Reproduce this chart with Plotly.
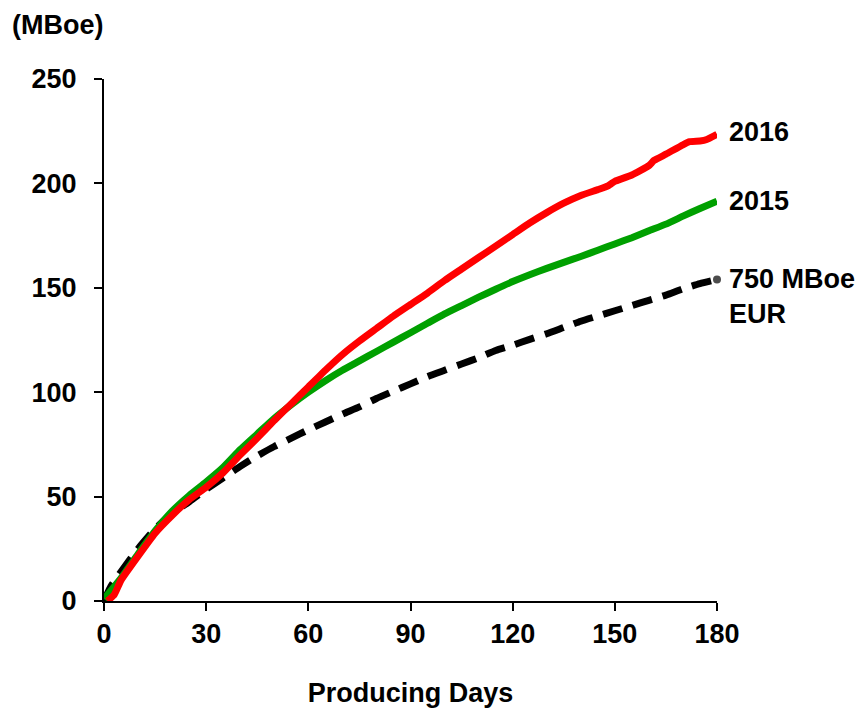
import plotly.graph_objects as go

# Cumulative production (MBoe) versus producing days
days_2016 = [1, 3, 5, 10, 15, 20, 25, 30, 35, 40, 45, 50, 55, 60, 65, 70, 75, 80, 85, 90,
             95, 100, 105, 110, 115, 120, 125, 130, 135, 140, 145, 148, 149.5, 150, 155,
             160, 161.5, 165, 170, 172, 175, 177, 180]
mboe_2016 = [0, 3, 10, 21.5, 32.5, 41, 48.5, 54.5, 61.5, 70, 78, 86.5, 94.5, 102.5, 110.5,
             118, 124.5, 130.5, 136.5, 142, 147.5, 153.5, 159, 164.5, 170, 175.5, 181,
             186, 190.5, 194.2, 197, 198.8, 200.5, 201, 204, 208.5, 211, 214, 218.5, 220,
             220.3, 221, 223.5]

days_2015 = [0, 5, 10, 15, 20, 25, 30, 35, 40, 45, 50, 55, 60, 65, 70, 75, 80, 85, 90, 95,
             100, 105, 110, 115, 120, 125, 130, 135, 140, 145, 150, 155, 160, 165, 170, 175, 180]
mboe_2015 = [1, 11, 22.5, 33.5, 43, 50.5, 57, 64, 72.5, 80, 87.5, 94, 100, 105.5, 110.5, 115,
             119.5, 124, 128.5, 133, 137.5, 141.5, 145.5, 149.3, 153, 156.3, 159.3, 162.2,
             165, 168, 171, 174, 177.3, 180.5, 184.3, 188, 191.5]

days_eur = [0, 2, 5, 10, 15, 20, 25, 30, 35, 40, 45, 50, 55, 60, 65, 70, 75, 80, 85, 90, 95,
            100, 105, 110, 115, 120, 125, 130, 135, 140, 145, 150, 155, 160, 165, 170, 175, 180]
mboe_eur = [0, 7, 14, 25, 34.5, 42, 47.5, 53.5, 59, 64.5, 69.5, 74, 78, 82, 85.7, 89.5, 93,
            97, 100.5, 104, 107.5, 110.5, 113.5, 116.5, 120, 122.5, 125.3, 128, 131, 134,
            136.5, 139, 141.5, 144, 146.5, 149.5, 152, 154]

x_ticks = [0, 30, 60, 90, 120, 150, 180]
y_ticks = [0, 50, 100, 150, 200, 250]

FONT = "Liberation Sans, Arial, sans-serif"
FS = 27

fig = go.Figure()

fig.add_trace(go.Scatter(
    x=days_eur, y=mboe_eur, mode="lines+markers",
    line=dict(color="black", width=7, dash="20px,11px", shape="spline", smoothing=0.5),
    marker=dict(color="black", size=[0] * (len(days_eur) - 1) + [8], line=dict(width=0)),
    cliponaxis=False, showlegend=False, hoverinfo="skip"))

fig.add_trace(go.Scatter(
    x=days_2015, y=mboe_2015, mode="lines",
    line=dict(color="#00A000", width=7, shape="spline", smoothing=0.5),
    showlegend=False, hoverinfo="skip"))

fig.add_trace(go.Scatter(
    x=days_2016, y=mboe_2016, mode="lines",
    line=dict(color="#FF0000", width=7, shape="spline", smoothing=0.4),
    showlegend=False, hoverinfo="skip"))

# end-of-curve labels
labels = [
    ("2016", days_2016[-1], mboe_2016[-1], 2),
    ("2015", days_2015[-1], mboe_2015[-1], 0),
    ("750 MBoe<br>EUR", days_eur[-1], mboe_eur[-1], -17),
]
for text, xv, yv, ys in labels:
    fig.add_annotation(x=xv, y=yv, xref="x", yref="y", text=text, showarrow=False,
                       xanchor="left", yanchor="middle", align="left",
                       xshift=10, yshift=ys,
                       font=dict(family=FONT, size=FS, color="black"))

# unit label at top-left
fig.add_annotation(text="(MBoe)", showarrow=False, xref="paper", yref="paper",
                   x=-104 / 613, y=1 + (79 - 25) / 522, xanchor="left", yanchor="middle",
                   xshift=10, font=dict(family=FONT, size=FS))

fig.update_layout(
    width=867, height=708,
    margin=dict(l=104, r=150, t=79, b=107, autoexpand=False),
    paper_bgcolor="white", plot_bgcolor="white",
    font=dict(family=FONT, size=FS, color="black", weight="bold"),
    xaxis=dict(range=[0, 180], tickvals=x_ticks, ticks="outside", ticklen=8,
               tickwidth=2, tickcolor="black", showline=True, linecolor="black",
               linewidth=2, showgrid=False, zeroline=False, automargin=False,
               title=dict(text="Producing Days", standoff=40,
                          font=dict(family=FONT, size=FS, weight="bold"))),
    yaxis=dict(range=[0, 250], tickvals=y_ticks, ticks="outside", ticklen=8,
               tickwidth=2, tickcolor="black", showline=True, linecolor="black",
               linewidth=2, showgrid=False, zeroline=False, automargin=False,
               ticklabelstandoff=12),
)

fig.write_html("out.html")
